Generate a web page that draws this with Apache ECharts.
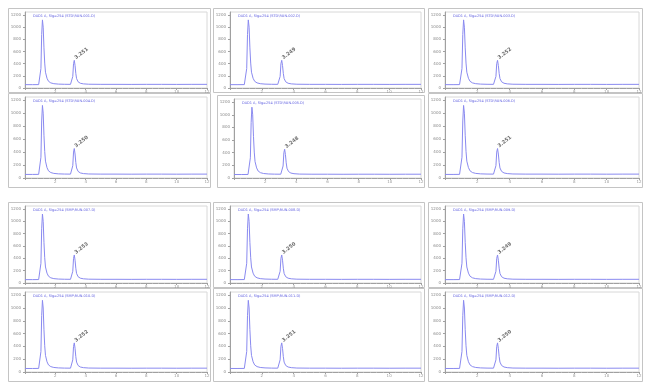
<!DOCTYPE html>
<html>
<head>
<meta charset="utf-8">
<script src="https://cdn.jsdelivr.net/npm/echarts@6/dist/echarts.min.js"></script>
<style>
  html, body { margin: 0; padding: 0; background: #fff; }
  #chart { width: 653px; height: 382px; }
</style>
</head>
<body>
<div id="chart"></div>
<script>
// Detector trace shared by the twelve injections (time in min, signal in mAU)
const timeMin = [0, 0.5, 0.9, 1.0, 1.05, 1.1, 1.15, 1.2, 1.25, 1.3, 1.35, 1.45, 1.55, 1.7, 1.9, 2.2, 2.6,
  3.0, 3.1, 3.15, 3.2, 3.25, 3.3, 3.35, 3.4, 3.5, 3.65, 3.85, 4.2, 5, 6, 7, 8, 9, 10, 11, 12];
const signalMAU = [55, 55, 56, 60, 320, 880, 1120, 1000, 660, 410, 260, 160, 110, 84, 71, 64, 61,
  60, 66, 190, 400, 455, 370, 240, 155, 102, 78, 68, 62, 60, 60, 59, 60, 60, 59, 60, 60];

// Integrated peak annotated in each run
const labelledPeakTime = 3.25;
const peakRetention = ['3.251', '3.249', '3.252', '3.250', '3.248', '3.251',
  '3.253', '3.250', '3.249', '3.252', '3.251', '3.250'];

// Run headers
const runTitles = [
  'DAD1 A, Sig=254 (STD\\RUN-001.D)', 'DAD1 A, Sig=254 (STD\\RUN-002.D)',
  'DAD1 A, Sig=254 (STD\\RUN-003.D)', 'DAD1 A, Sig=254 (STD\\RUN-004.D)',
  'DAD1 A, Sig=254 (STD\\RUN-005.D)', 'DAD1 A, Sig=254 (STD\\RUN-006.D)',
  'DAD1 A, Sig=254 (SMP\\RUN-007.D)', 'DAD1 A, Sig=254 (SMP\\RUN-008.D)',
  'DAD1 A, Sig=254 (SMP\\RUN-009.D)', 'DAD1 A, Sig=254 (SMP\\RUN-010.D)',
  'DAD1 A, Sig=254 (SMP\\RUN-011.D)', 'DAD1 A, Sig=254 (SMP\\RUN-012.D)'
];

// Axis ranges
const timeMax = 12, timeStep = 2;
const mauMax = 1250, mauStep = 200;

// Panel frames [x, y, w, h]; plot areas are derived from them
const frames = [
  [8, 8, 203, 85], [213, 8, 212, 85], [428, 8, 215, 85],
  [8, 93, 203, 95], [217, 95, 208, 93], [428, 93, 215, 95],
  [8, 202, 203, 86], [213, 202, 212, 86], [428, 202, 215, 86],
  [8, 288, 203, 94], [213, 288, 212, 94], [428, 288, 215, 94]
];
const plots = frames.map(([x, y, w, h]) => [x + 17, y + 4, w - 21, h - (h > 90 ? 14 : 9)]);

const chart = echarts.init(document.getElementById('chart'), null, { renderer: 'canvas' });

const peakIdx = timeMin.indexOf(labelledPeakTime);
const grids = [], xAxes = [], yAxes = [], series = [], titles = [], frameRects = [];
plots.forEach(([l, t, w, h], i) => {
  grids.push({ left: l, top: t, width: w, height: h, show: true, borderColor: '#d8d8d8', borderWidth: 1, backgroundColor: '#fff' });
  xAxes.push({
    gridIndex: i, type: 'value', min: 0, max: timeMax, interval: timeStep,
    axisLine: { lineStyle: { color: '#a0a0a0' } },
    axisTick: { length: 2, lineStyle: { color: '#a0a0a0' } },
    minorTick: { show: true, splitNumber: 5, length: 1, lineStyle: { color: '#b8b8b8' } },
    splitLine: { show: false },
    axisLabel: { fontSize: 4, color: '#999', margin: 2, showMinLabel: false, fontFamily: 'DejaVu Sans' }
  });
  yAxes.push({
    gridIndex: i, type: 'value', min: 0, max: mauMax, interval: mauStep,
    axisLine: { show: true, lineStyle: { color: '#a0a0a0' } },
    axisTick: { show: true, length: 2, lineStyle: { color: '#a0a0a0' } },
    splitLine: { show: false },
    axisLabel: { fontSize: 4, color: '#888', margin: 4, showMaxLabel: false, fontFamily: 'DejaVu Sans',
      formatter: v => String(v) }
  });
  series.push({
    type: 'line', xAxisIndex: i, yAxisIndex: i,
    data: timeMin.map((tm, k) => [tm, signalMAU[k]]),
    showSymbol: false, symbol: 'none',
    lineStyle: { color: '#8a8af0', width: 1 }, animation: false, silent: true,
    markPoint: {
      symbol: 'circle', symbolSize: 0, silent: true, animation: false,
      data: [{ coord: [labelledPeakTime, signalMAU[peakIdx]], value: peakRetention[i] }],
      label: {
        show: true, formatter: p => p.value, position: [1, -2], align: 'left', verticalAlign: 'middle',
        rotate: 38, fontSize: 5, color: '#6e6e6e', fontWeight: 'bold', fontFamily: 'DejaVu Sans'
      }
    }
  });
  titles.push({
    text: runTitles[i], left: l + 3, top: t - 3,
    textStyle: { fontSize: 3.5, color: '#6060e0', fontWeight: 'normal', fontFamily: 'DejaVu Sans' }
  });
  const [fx, fy, fw, fh] = frames[i];
  frameRects.push({
    type: 'rect', shape: { x: fx + 0.5, y: fy + 0.5, width: fw - 1, height: fh - 1 },
    style: { fill: 'none', stroke: '#c4c4c4', lineWidth: 1 }, z: -1
  });
});

chart.setOption({
  animation: false,
  backgroundColor: '#fff',
  title: titles,
  grid: grids,
  xAxis: xAxes,
  yAxis: yAxes,
  series,
  graphic: frameRects
});
</script>
</body>
</html>
